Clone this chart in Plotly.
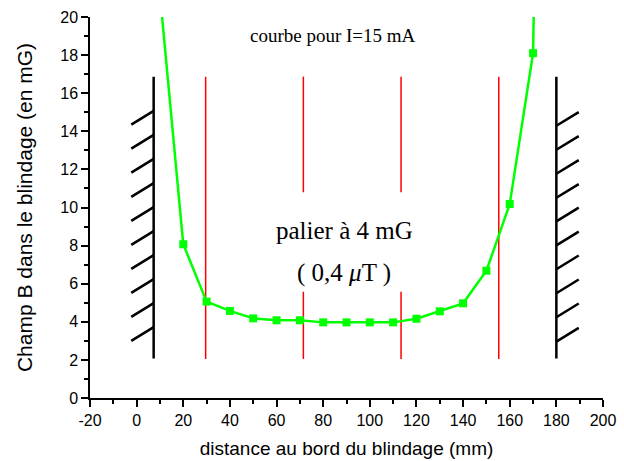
import plotly.graph_objects as go

# --- data ---
distance_mm = [10, 20, 30, 40, 50, 60, 70, 80, 90, 100, 110, 120, 130, 140, 150, 160, 170, 171]
champ_mG = [21.2, 8.07, 5.06, 4.57, 4.18, 4.08, 4.08, 3.97, 3.97, 3.97, 3.97, 4.16, 4.55, 4.97, 6.68, 10.18, 18.1, 25.0]

x_tick_vals = [-20, 0, 20, 40, 60, 80, 100, 120, 140, 160, 180, 200]
x_tick_text = ["-20", "0", "20", "40", "60", "80", "100", "120", "140", "160", "180", "200"]
y_tick_vals = [0, 2, 4, 6, 8, 10, 12, 14, 16, 18, 20]
y_tick_text = ["0", "2", "4", "6", "8", "10", "12", "14", "16", "18", "20"]

# shield walls (x position) and their vertical extent
wall_x = [7.3, 180.0]
wall_y = [2.08, 16.87]
# hatch anchor heights on each wall
left_hatch_y = [15.07, 13.81, 12.55, 11.28, 10.02, 8.76, 7.5, 6.24, 4.98, 3.72]
right_hatch_y = [14.29, 13.03, 11.77, 10.51, 9.27, 8.01, 6.76, 5.5, 4.24, 2.96]
hatch_dx = 9.6
hatch_dy = 0.72

# red guide lines
red_full_x = [29.6, 155.3]
red_broken_x = [71.5, 113.4]
red_y = [2.05, 16.87]
red_gap = [5.58, 10.8]

fig = go.Figure()

# walls
wx, wy = [], []
for x in wall_x:
    wx += [x, x, None]
    wy += [wall_y[0], wall_y[1], None]
for y in left_hatch_y:
    wx += [wall_x[0], wall_x[0] - hatch_dx, None]
    wy += [y, y - hatch_dy, None]
for y in right_hatch_y:
    wx += [wall_x[1], wall_x[1] + hatch_dx, None]
    wy += [y, y + hatch_dy, None]
fig.add_trace(go.Scatter(x=wx, y=wy, mode="lines",
                         line=dict(color="black", width=2.5), hoverinfo="skip", showlegend=False))

# red lines
rx, ry = [], []
for x in red_full_x:
    rx += [x, x, None]
    ry += [red_y[0], red_y[1], None]
for x in red_broken_x:
    rx += [x, x, None, x, x, None]
    ry += [red_y[0], red_gap[0], None, red_gap[1], red_y[1], None]
fig.add_trace(go.Scatter(x=rx, y=ry, mode="lines",
                         line=dict(color="#FF0000", width=1.5), hoverinfo="skip", showlegend=False))

# measured curve
fig.add_trace(go.Scatter(x=distance_mm, y=champ_mG, mode="lines+markers",
                         line=dict(color="#00FF00", width=2.5),
                         marker=dict(symbol="square", size=8, color="#00FF00"),
                         showlegend=False))

serif = "Liberation Serif, Times New Roman, serif"
fig.add_annotation(x=84.4, y=19.02, text="courbe pour I=15 mA", showarrow=False,
                   font=dict(family=serif, size=19, color="black"))
fig.add_annotation(x=89, y=8.77, text="palier à 4 mG", showarrow=False,
                   font=dict(family=serif, size=25, color="black"))
fig.add_annotation(x=89, y=6.56, text="( 0,4 <i>μ</i>T )", showarrow=False,
                   font=dict(family=serif, size=25, color="black"))

sans = "Liberation Sans, Arial, sans-serif"
fig.update_xaxes(range=[-20, 200], tickvals=x_tick_vals, ticktext=x_tick_text,
                 showline=True, linecolor="black", linewidth=1.5, automargin=False,
                 ticks="outside", ticklen=7, tickwidth=1.5, tickcolor="black",
                 minor=dict(dtick=10, tick0=0, ticks="outside", ticklen=4, tickwidth=1.5, tickcolor="black"),
                 showgrid=False, zeroline=False,
                 tickfont=dict(family=sans, size=16, color="black"),
                 title=dict(text="distance au bord du blindage (mm)",
                            font=dict(family=sans, size=19, color="black"), standoff=14))
fig.update_yaxes(range=[0, 20], tickvals=y_tick_vals, ticktext=y_tick_text,
                 showline=True, linecolor="black", linewidth=1.5, automargin=False,
                 ticks="outside", ticklen=7, tickwidth=1.5, tickcolor="black",
                 minor=dict(dtick=1, tick0=0, ticks="outside", ticklen=4, tickwidth=1.5, tickcolor="black"),
                 showgrid=False, zeroline=False,
                 tickfont=dict(family=sans, size=16, color="black"),
                 title=dict(text="Champ B dans le blindage (en mG)",
                            font=dict(family=sans, size=21, color="black"), standoff=22))

fig.update_layout(width=624, height=461, margin=dict(l=90, r=21, t=17, b=63),
                  plot_bgcolor="white", paper_bgcolor="white")

fig.write_html("out.html", config={"displayModeBar": False},
               post_script="document.body.style.margin='0';")
